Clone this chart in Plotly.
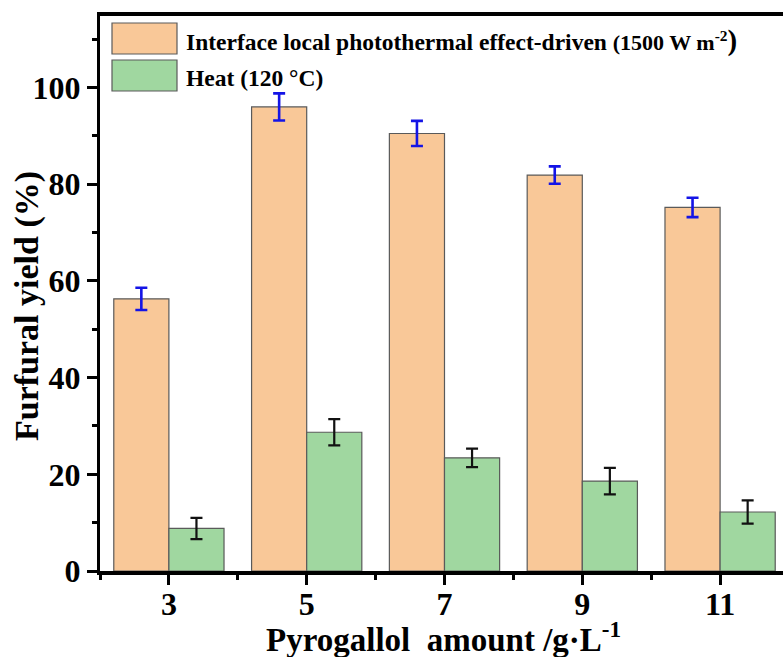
import plotly.graph_objects as go

# ---- data ----
amounts = [3, 5, 7, 9, 11]
photothermal_yield = [56.3, 96.0, 90.5, 81.9, 75.2]
photothermal_err = [2.3, 2.8, 2.6, 1.8, 2.0]
heat_yield = [8.8, 28.7, 23.4, 18.6, 12.2]
heat_err = [2.2, 2.7, 1.9, 2.75, 2.4]
series_names = ["Interface local photothermal effect-driven (1500 W m<sup>-2</sup>)", "Heat (120 °C)"]
x_title = "Pyrogallol  amount /g·L<sup>-1</sup>"
y_title = "Furfural yield (%)"

ORANGE = "#F9C898"
GREEN = "#A0D7A0"
EDGE = "#5a5a5a"
FONT = "Liberation Serif"

W, H = 783, 657
ML, MR, MT, MB = 100, 0, 16, 86
PW, PH = W - ML - MR, H - MT - MB

def px_x(px):
    return (px - ML) / PW

def px_y(py):
    return (H - MB - py) / PH

fig = go.Figure()
fig.add_trace(go.Bar(
    x=amounts, y=photothermal_yield, name=series_names[0],
    marker=dict(color=ORANGE, line=dict(color=EDGE, width=1.2)),
    error_y=dict(type="data", array=photothermal_err, color="#1414E6", thickness=2.6, width=6),
    showlegend=False,
))
fig.add_trace(go.Bar(
    x=amounts, y=heat_yield, name=series_names[1],
    marker=dict(color=GREEN, line=dict(color=EDGE, width=1.2)),
    error_y=dict(type="data", array=heat_err, color="#111111", thickness=2.2, width=6),
    showlegend=False,
))

tickfont = dict(family=FONT, size=32, color="black", weight="bold")

fig.update_layout(
    width=W, height=H,
    margin=dict(l=ML, r=MR, t=MT, b=MB, autoexpand=False),
    paper_bgcolor="white", plot_bgcolor="white",
    barmode="group", bargap=0.2, bargroupgap=0.0,
    xaxis=dict(
        range=[2, 2 + PW / 68.9], automargin=False,
        tickmode="linear", tick0=1, dtick=2,
        ticks="outside", ticklen=10, tickwidth=3, tickcolor="black",
        ticklabelstandoff=-8,
        minor=dict(ticks="outside", ticklen=5, tickwidth=3, tickcolor="black", dtick=1, tick0=0),
        showline=True, linewidth=3.5, linecolor="black", mirror=True,
        showgrid=False, zeroline=False,
        tickfont=tickfont,
    ),
    yaxis=dict(
        range=[0, 114.8], automargin=False,
        tickmode="linear", tick0=0, dtick=20,
        ticks="outside", ticklen=10, tickwidth=3, tickcolor="black",
        minor=dict(ticks="outside", ticklen=5, tickwidth=3, tickcolor="black", dtick=10, tick0=0),
        showline=True, linewidth=3, linecolor="black", mirror=False,
        showgrid=False, zeroline=False,
        tickfont=tickfont,
    ),
)

# axis titles
fig.add_annotation(
    xref="paper", yref="paper", x=px_x(443), y=px_y(637),
    text=x_title, showarrow=False, xanchor="center", yanchor="middle",
    font=dict(family=FONT, size=33, color="black", weight="bold"),
)
fig.add_annotation(
    xref="paper", yref="paper", x=px_x(27), y=px_y(306),
    text=y_title, textangle=-90, showarrow=False,
    xanchor="center", yanchor="middle",
    font=dict(family=FONT, size=34, color="black", weight="bold"),
)

# legend drawn as patches + text
legend_rows = [
    (ORANGE, 23, 54, 40,
     "Interface local photothermal effect-driven "
     "<span style='font-size:22px'>(1500 W m<sup>-2</sup></span><span style='font-size:29px'>)</span>"),
    (GREEN, 60, 91, 78, series_names[1]),
]
for color, y0, y1, yc, label in legend_rows:
    fig.add_shape(type="rect", xref="paper", yref="paper",
                  x0=px_x(112), x1=px_x(177), y0=px_y(y1), y1=px_y(y0),
                  fillcolor=color, line=dict(color=EDGE, width=1.2))
    fig.add_annotation(xref="paper", yref="paper", x=px_x(184), y=px_y(yc),
                       text=label, showarrow=False, xanchor="left", yanchor="middle",
                       font=dict(family=FONT, size=23.5, color="black", weight="bold"))

fig.write_html("out.html", post_script="document.body.style.margin='0';",
               config={"displayModeBar": False})
